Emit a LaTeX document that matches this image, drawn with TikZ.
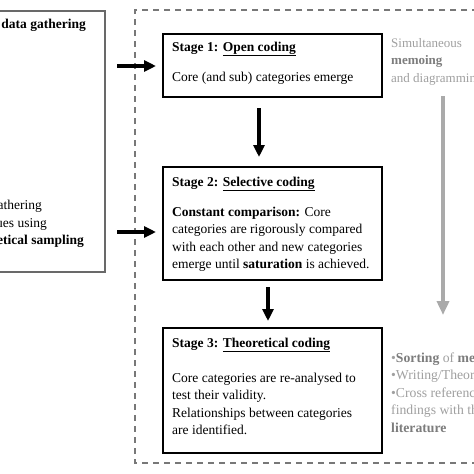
\documentclass[tikz,border=0pt]{standalone}
\usepackage{fontspec}
\setmainfont{Liberation Serif}
\usetikzlibrary{arrows.meta}
\definecolor{dashgray}{RGB}{120,120,120}
\definecolor{leftgray}{RGB}{105,105,105}
\definecolor{arrgray}{RGB}{170,170,170}
\definecolor{notegray}{RGB}{160,160,160}
\definecolor{notebold}{RGB}{125,125,125}
\begin{document}
\begin{tikzpicture}[x=1pt,y=-1pt,
  txt/.style={inner sep=0pt, anchor=base west, font=\fontsize{13.5}{17.6}\selectfont},
  ltxt/.style={inner sep=0pt, anchor=base east, font=\fontsize{13.5}{17.6}\selectfont},
  ntxt/.style={inner sep=0pt, anchor=base west, text=notegray, font=\fontsize{13}{17.5}\selectfont},
  mtxt/.style={inner sep=0pt, anchor=base west, text=notegray, font=\fontsize{13.7}{17.5}\selectfont},
  stagebox/.style={draw=black, line width=2pt, inner sep=0pt, minimum width=219pt, anchor=north west},
  blackarr/.style={line width=3.2pt, -{Triangle[length=12pt,width=11pt]}},
  grayarr/.style={draw=arrgray, line width=4pt, -{Triangle[length=14pt,width=12pt]}}
]
\useasboundingbox (0,0) rectangle (474,474);
\clip (0,0) rectangle (474,474);
\fill[white] (0,0) rectangle (474,474);

% left box
\draw[leftgray, line width=1.3pt] (-10,11) rectangle (105,272);
\node[ltxt, font=\bfseries\fontsize{13.5}{17.6}\selectfont] (l1) at (86,28) {data gathering};
\node[ltxt] (l2) at (42,209) {athering};
\node[ltxt] (l3) at (47,227) {ues using};
\node[ltxt, font=\bfseries\fontsize{13.5}{17.6}\selectfont] (l4) at (84,244) {etical sampling};

% dashed frame
\draw[dashgray, line width=1.5pt, dash pattern=on 6pt off 5pt] (500,10) -- (135,10) -- (135,463) -- (500,463);

% stage boxes
\node[stagebox, minimum height=63pt] (s1) at (162,33) {};
\node[stagebox, minimum height=113pt] (s2) at (162,166) {};
\node[stagebox, minimum height=125pt] (s3) at (162,327) {};

% stage 1 text
\node[txt] (t1a) at (172,51) {\textbf{Stage 1: \underline{Open coding}}};
\node[txt] (t1b) at (172,81) {Core (and sub) categories emerge};

% stage 2 text
\node[txt] (t2a) at (172,186) {\textbf{Stage 2: \underline{Selective coding}}};
\node[txt] (t2b) at (172,216) {\textbf{Constant comparison:} Core};
\node[txt] (t2c) at (172,233.6) {categories are rigorously compared};
\node[txt] (t2d) at (172,251.2) {with each other and new categories};
\node[txt] (t2e) at (172,268.8) {emerge until \textbf{saturation} is achieved.};

% stage 3 text
\node[txt] (t3a) at (172,347) {\textbf{Stage 3: \underline{Theoretical coding}}};
\node[txt] (t3b) at (172,382) {Core categories are re-analysed to};
\node[txt] (t3c) at (172,399.6) {test their validity.};
\node[txt] (t3d) at (172,417.2) {Relationships between categories};
\node[txt] (t3e) at (172,434.8) {are identified.};

% right notes
\node[ntxt] (n1) at (391,47) {Simultaneous};
\node[ntxt, text=notebold] (n2) at (391,64.5) {\textbf{memoing}};
\node[ntxt] (n3) at (391,82) {and diagramming};
\node[mtxt] (n4) at (391,362) {•\textcolor{notebold}{\textbf{Sorting}} of \textcolor{notebold}{\textbf{memos}}};
\node[mtxt] (n5) at (391,379.5) {•Writing/Theorising};
\node[mtxt] (n6) at (391,397) {•Cross referencing};
\node[mtxt] (n7) at (391,414.5) {findings with the};
\node[mtxt, text=notebold] (n8) at (391,432) {\textbf{literature}};

% connectors
\coordinate (a1s) at (117,66);
\coordinate (a2s) at (117,232);
\draw[blackarr] (a1s) -- ([xshift=-6pt]s1.west |- a1s);
\draw[blackarr] (a2s) -- ([xshift=-6pt]s2.west |- a2s);
\coordinate (v1) at (259,0);
\coordinate (v2) at (268,0);
\draw[blackarr] ([yshift=-10pt]s1.south -| v1) -- ([yshift=9pt]s2.north -| v1);
\draw[blackarr] ([yshift=-6pt]s2.south -| v2) -- ([yshift=6pt]s3.north -| v2);
\coordinate (g1) at (443,96);
\coordinate (g2) at (443,315);
\draw[grayarr] (g1) -- (g2);
\end{tikzpicture}
\end{document}
